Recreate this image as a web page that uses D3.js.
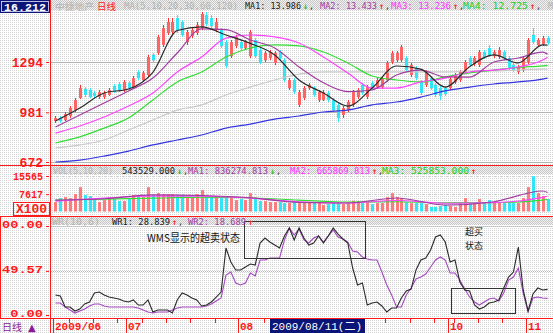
<!DOCTYPE html>
<html><head><meta charset="utf-8">
<script src="https://cdn.jsdelivr.net/npm/d3@7"></script>
<style>
html,body{margin:0;padding:0;background:#fff;overflow:hidden}
svg{display:block}
</style></head><body>
<svg id="c" width="553" height="333"></svg>
<script>
// ---------- DATA ----------
const open = [927,946,933,958,995,1070,1126,1120,1101,1076,
1076,1089,1145,1157,1120,1163,1138,1232,1182,1213,
1338,1350,1400,1474,1481,1568,1543,1418,1456,1474,
1505,1586,1568,1493,1493,1418,1331,1394,1418,1381,
1331,1431,1369,1306,1319,1288,1356,1306,1132,1182,
1027,1070,1132,1132,1058,1058,1101,1058,1027,964,
995,1027,1076,1151,1076,1163,1138,1138,1182,1294,
1306,1306,1319,1213,1257,1170,1151,1194,1151,1132,
1132,1132,1170,1182,1232,1319,1282,1275,1356,1381,
1331,1325,1356,1319,1275,1232,1244,1294,1462,1400,
1406,1443];
const close = [946,927,971,1008,1058,1132,1089,1076,1083,1107,
1101,1120,1107,1120,1170,1132,1194,1194,1226,1325,
1306,1450,1505,1543,1543,1493,1462,1481,1493,1524,
1593,1530,1518,1543,1394,1269,1418,1450,1381,1418,
1481,1331,1294,1350,1356,1350,1319,1182,1182,1107,
1107,1132,1151,1089,1107,1107,1058,995,946,1008,
1045,1107,1120,1101,1138,1132,1182,1194,1288,1350,
1350,1387,1244,1275,1194,1101,1232,1132,1089,1083,
1095,1188,1213,1232,1294,1275,1319,1356,1325,1338,
1356,1369,1319,1257,1244,1263,1319,1431,1418,1431,
1443,1412];
const high = [958,958,983,1020,1070,1151,1138,1132,1114,1120,
1114,1132,1157,1170,1182,1176,1207,1244,1238,1338,
1350,1462,1524,1568,1568,1586,1555,1493,1505,1543,
1605,1605,1586,1568,1505,1431,1431,1462,1431,1431,
1493,1443,1381,1362,1369,1362,1369,1319,1194,1194,
1120,1145,1163,1145,1120,1120,1114,1070,1039,1020,
1058,1120,1132,1163,1151,1176,1194,1207,1300,1362,
1362,1400,1331,1288,1269,1182,1244,1207,1163,1145,
1145,1201,1226,1244,1306,1331,1331,1369,1369,1400,
1369,1387,1369,1331,1288,1275,1331,1443,1505,1443,
1456,1456];
const low = [915,915,927,946,983,1064,1076,1070,1064,1064,
1064,1083,1101,1107,1107,1120,1126,1182,1170,1201,
1294,1338,1387,1462,1468,1474,1450,1400,1443,1462,
1493,1518,1505,1481,1381,1257,1319,1381,1369,1369,
1319,1319,1282,1294,1306,1275,1306,1170,1120,1095,
1014,1058,1120,1076,1045,1051,1045,983,921,946,
983,1014,1064,1089,1064,1120,1126,1126,1170,1282,
1294,1294,1232,1201,1182,1089,1138,1120,1076,1058,
1083,1120,1157,1170,1219,1263,1269,1263,1313,1325,
1319,1313,1306,1244,1232,1219,1232,1282,1406,1387,
1394,1400];
// volume in units of 100 (axis "X100")
const volume = [4130,5870,6300,5870,7600,10660,7180,6740,5440,4130,
5000,5440,5440,4570,4570,5440,7180,6740,6300,10660,
7180,8050,7610,7610,7610,6740,7180,6300,6300,7610,
9350,6300,6740,6740,5870,6300,5870,5000,5440,5000,
8050,5440,4570,4570,4130,4130,4130,3700,3700,4130,
3700,3700,4130,3700,3700,2830,3260,3700,3700,3260,
3700,4700,4570,3700,4130,3260,3700,3700,6300,8050,
6300,5870,4130,3700,3700,3700,3260,1960,1960,2390,
2830,2390,1960,3700,5870,3700,3700,5440,3700,5000,
4130,4130,3700,3700,3700,3700,5870,10660,15440,8050,
6740,5440];
// price moving averages, read at these bar indices
const maKnots = [0,5,10,15,20,25,30,35,40,45,50,55,60,65,70,75,80,85,90,95,100,101];
const ma5   = [927,1008,1101,1126,1230,1490,1512,1462,1410,1338,1182,1101,1020,1132,1269,1250,1138,1265,1338,1288,1400,1399];
const ma10  = [890,964,1039,1114,1194,1350,1500,1495,1431,1381,1263,1165,1110,1120,1213,1244,1201,1200,1294,1319,1356,1343];
const ma20  = [852,896,952,1020,1101,1232,1325,1443,1462,1450,1412,1325,1226,1132,1132,1170,1194,1232,1244,1263,1306,1324];
const ma30  = [790,828,883,946,1058,1170,1232,1325,1381,1400,1394,1356,1288,1207,1182,1170,1201,1226,1244,1260,1270,1273];
const ma60  = [759,778,809,871,933,995,1027,1089,1138,1182,1219,1232,1232,1232,1232,1232,1232,1238,1238,1244,1250,1250];
const ma120 = [672,684,709,740,778,809,840,883,908,939,958,983,995,1027,1045,1076,1114,1138,1157,1170,1188,1194];
// volume moving averages
const volKnots = [0,10,20,30,40,50,60,70,80,90,100,101];
const volMa1 = [5000,5600,7300,7000,6000,4000,3700,5900,2800,4300,9000,8363];
const volMa2 = [4570,5870,6740,6740,5870,4300,3700,4800,3600,3900,6200,6659];
const volMa3 = [5000,5440,5870,6300,6000,5000,4100,4300,3800,3900,5000,5259];
// WR indicator
const wr1 = [22.5,21.3,9.0,9.0,4.5,6.7,12.4,14.6,24.7,25.8,
22.5,20.2,19.1,18.0,15.7,14.6,16.9,11.2,11.2,16.9,
3.4,5.6,5.6,5.6,2.2,16.9,24.7,22.5,19.1,16.9,
10.1,11.2,14.6,20.2,25.8,75.3,59.6,50.6,50.6,53.9,
57.3,56.2,80.9,86.5,82.0,78.7,75.3,88.8,97.8,84.3,
97.8,86.5,78.7,80.9,88.8,80.9,88.8,97.8,91.0,85.4,
80.9,52.8,33.7,36.0,11.2,13.5,14.6,10.1,3.4,7.9,
7.9,19.1,27.0,29.2,50.6,61.8,64.0,73.0,87.6,89.9,
82.0,59.6,61.8,37.1,28.1,27.0,11.2,6.7,9.0,13.5,
14.6,16.9,30.3,42.7,48.3,76.4,28.1,4.5,23.6,30.3,
28.1,28.8];
const wr2 = [13.5,13.5,9.0,5.6,2.2,4.5,6.7,10.1,12.4,12.4,
10.1,9.0,9.0,9.0,9.0,9.0,9.0,7.9,5.6,3.4,
2.2,3.4,3.4,3.4,5.6,7.9,9.0,9.0,9.0,9.0,
9.0,10.1,12.4,15.7,19.1,44.9,48.3,36.0,33.7,36.0,
47.2,43.8,61.8,61.8,64.0,64.0,64.0,84.3,97.8,89.9,
96.6,84.3,80.9,86.5,88.8,82.0,88.8,95.5,87.6,85.4,
82.0,71.9,70.8,65.2,62.9,61.8,61.8,48.3,33.7,22.5,
9.0,9.0,22.5,30.3,40.4,42.7,46.1,53.9,61.8,65.2,
61.8,47.2,47.2,39.3,29.2,20.2,14.6,11.2,14.6,18.0,
19.1,15.7,24.7,39.3,42.7,52.8,24.7,3.4,19.1,20.2,
19.1,18.7];
// ticks / labels
const priceTicks = [1294, 981, 672];
const volTicks = [15565, 7617];
const wrTicks = [100, 49.57, 0];
const monthLabels = ["2009/06","07","08","09","10","11"];
const monthStart = [0,15,38,59,81,97];
const weekStart = [3,8,13,18,23,28,33,43,48,53,63,68,73,78,82,87,92];
const topPrice = "16.212";
const maNames = ["MA1","MA2","MA3","MA4"];
const maLast = ["13.986","13.433","13.236","12.725"];
const maUp = [false,true,true,true];
const volNow = "543529.000";
const volMaNames = ["MA1","MA2","MA3"];
const volMaLast = ["836274.813","665869.813","525853.000"];
const volMaUp = [false,true,true];
const wrNames = ["WR1","WR2"];
const wrLast = ["28.839","18.689"];
const cursorDate = "2009/08/11(二)";
const cursorBar = 44;
// annotation boxes: bar index range and WR range
const boxes = [{i0:39.2,i1:64.1,w0:64,w1:105.6},{i0:81.7,i1:94.9,w0:2.2,w1:30.3}];

// ---------- DRAW ----------
const svg = d3.select("#c");
const W = 553, H = 333;
const defs = svg.append("defs");
const p1 = defs.append("pattern").attr("id","dots").attr("width",2).attr("height",2).attr("patternUnits","userSpaceOnUse");
p1.append("rect").attr("width",2).attr("height",2).attr("fill","#fff");
p1.append("rect").attr("width",1).attr("height",1).attr("fill","#d4d4d4");
const p2 = defs.append("pattern").attr("id","dots2").attr("width",2).attr("height",2).attr("patternUnits","userSpaceOnUse");
p2.append("rect").attr("width",2).attr("height",2).attr("fill","#f2f2f2");
p2.append("rect").attr("width",1).attr("height",1).attr("fill","#c6c6c6");
p2.append("rect").attr("x",1).attr("y",1).attr("width",1).attr("height",1).attr("fill","#c6c6c6");
function clip(id,x,y,w,h){defs.append("clipPath").attr("id",id).append("rect").attr("x",x).attr("y",y).attr("width",w).attr("height",h);}
clip("cp",51,10,502,155);
clip("cv",51,174,502,42);
clip("cw",51,218,502,100);

svg.append("rect").attr("width",W).attr("height",H).attr("fill","url(#dots)");
svg.append("rect").attr("x",51).attr("y",0).attr("width",502).attr("height",10).attr("fill","url(#dots2)");
svg.append("rect").attr("x",51).attr("y",166).attr("width",502).attr("height",8).attr("fill","url(#dots2)");
svg.append("rect").attr("x",51).attr("y",217).attr("width",502).attr("height",8).attr("fill","url(#dots2)");

const n = close.length;
const x = d3.scaleBand().domain(d3.range(n)).range([53,550]);
const xi = d3.scaleLinear().domain([0,n]).range([53,550]);
const cx = i => x(i) + x.bandwidth()/2;
const yP = d3.scaleLinear().domain([672,1294]).range([162,62]);
const yV = d3.scaleLinear().domain([0,15565]).range([211.5,176]);
const yW = d3.scaleLinear().domain([0,100]).range([315,226]);

const RED = "#ff1a1a", UPC = "#ff6464", DNC = "#2ee6f6";
const MONO = "'Liberation Mono','DejaVu Sans Mono',monospace";
const HMONO = "'DejaVu Sans Mono','Liberation Mono',monospace";
const CJK = "'Noto Sans CJK SC','Noto Sans',sans-serif";

// gridlines
svg.append("g").selectAll("line").data(priceTicks).join("line")
  .attr("x1",51).attr("x2",W).attr("y1",d=>Math.round(yP(d))+0.5).attr("y2",d=>Math.round(yP(d))+0.5)
  .attr("stroke","#b4b4b4");
svg.append("g").selectAll("line").data(wrTicks.slice(0,2)).join("line")
  .attr("x1",51).attr("x2",W).attr("y1",d=>Math.round(yW(d))+0.5).attr("y2",d=>Math.round(yW(d))+0.5)
  .attr("stroke","#b8b8b8").attr("stroke-dasharray","1,1");
svg.append("g").selectAll("line").data(volTicks).join("line")
  .attr("x1",51).attr("x2",W).attr("y1",d=>Math.round(yV(d))+0.5).attr("y2",d=>Math.round(yV(d))+0.5)
  .attr("stroke","#c8c8c8").attr("stroke-dasharray","1,2");

// candles
const gc = svg.append("g").attr("clip-path","url(#cp)");
const idx = d3.range(n);
gc.selectAll("line").data(idx).join("line")
  .attr("x1",i=>Math.round(cx(i))+0.5).attr("x2",i=>Math.round(cx(i))+0.5)
  .attr("y1",i=>yP(high[i])).attr("y2",i=>yP(low[i]))
  .attr("stroke",i=>close[i]>=open[i]?"#ff2a2a":DNC);
gc.selectAll("rect").data(idx).join("rect")
  .attr("x",i=>Math.round(cx(i))-1).attr("width",3)
  .attr("y",i=>yP(Math.max(open[i],close[i])))
  .attr("height",i=>Math.max(1,Math.abs(yP(open[i])-yP(close[i]))))
  .attr("fill",i=>close[i]>=open[i]?UPC:DNC);

// price MAs
const maSeries = [[ma120,"#3434e0"],[ma60,"#cacaca"],[ma30,"#33dd33"],[ma20,"#ff44ff"],[ma10,"#a03ca0"],[ma5,"#2a2a2a"]];
const kline = d3.line().x(d=>cx(d[0])).y(d=>yP(d[1])).curve(d3.curveMonotoneX);
gc.selectAll("path.ma").data(maSeries).join("path").attr("class","ma")
  .attr("d",s=>kline(maKnots.map((k,j)=>[k,s[0][j]])))
  .attr("fill","none").attr("stroke",s=>s[1]).attr("stroke-width",1.2);

// volume
const gv = svg.append("g").attr("clip-path","url(#cv)");
gv.selectAll("rect").data(idx).join("rect")
  .attr("x",i=>Math.round(cx(i))-1).attr("width",3)
  .attr("y",i=>yV(volume[i])).attr("height",i=>yV(0)-yV(volume[i]))
  .attr("fill",i=>close[i]>=open[i]?"#ff7a7a":DNC);
const vline = d3.line().x(d=>cx(d[0])).y(d=>yV(d[1])).curve(d3.curveMonotoneX);
gv.selectAll("path").data([[volMa3,"#33dd33"],[volMa2,"#ff44ff"],[volMa1,"#a03ca0"]]).join("path")
  .attr("d",s=>vline(volKnots.map((k,j)=>[k,s[0][j]])))
  .attr("fill","none").attr("stroke",s=>s[1]).attr("stroke-width",1.1);

// WR
const gw = svg.append("g").attr("clip-path","url(#cw)");
const wline = d3.line().x((d,i)=>cx(i)).y(d=>yW(d));
gw.append("path").attr("d",wline(wr2)).attr("fill","none").attr("stroke","#a548c0").attr("stroke-width",1.1);
gw.append("path").attr("d",wline(wr1)).attr("fill","none").attr("stroke","#2a2a2a").attr("stroke-width",1.1);
svg.append("g").selectAll("rect").data(boxes).join("rect")
  .attr("x",b=>Math.round(xi(b.i0))+0.5).attr("y",b=>Math.round(yW(b.w1))+0.5)
  .attr("width",b=>Math.round(xi(b.i1)-xi(b.i0))).attr("height",b=>Math.round(yW(b.w0)-yW(b.w1)))
  .attr("fill","none").attr("stroke","#333").attr("stroke-width",1);

// annotations
svg.append("text").attr("x",147).attr("y",242).attr("textLength",93).attr("lengthAdjust","spacingAndGlyphs")
  .style("font-family",CJK).style("font-size","11px").attr("fill","#111").text("WMS显示的超卖状态");
svg.append("text").attr("x",465).attr("y",235).style("font-family",CJK).style("font-size","9px").attr("fill","#111").text("超买");
svg.append("text").attr("x",465).attr("y",248.5).style("font-family",CJK).style("font-size","9px").attr("fill","#111").text("状态");

// frame lines
const fr = svg.append("g").attr("stroke",RED).attr("stroke-width",1);
fr.append("line").attr("x1",50.5).attr("x2",50.5).attr("y1",0).attr("y2",H);
fr.append("line").attr("x1",0).attr("x2",W).attr("y1",165.5).attr("y2",165.5);
fr.append("line").attr("x1",0).attr("x2",W).attr("y1",216.5).attr("y2",216.5);
fr.append("line").attr("x1",0).attr("x2",W).attr("y1",318.5).attr("y2",318.5);
fr.append("line").attr("x1",0.5).attr("x2",0.5).attr("y1",216).attr("y2",318);

// axes
function styleAxis(g, size, perChar, dy){
  g.select(".domain").remove();
  g.selectAll(".tick line").attr("stroke",RED);
  g.selectAll(".tick text").attr("fill",RED).style("font-family",MONO).style("font-weight","bold")
   .style("font-size",size+"px")
   .each(function(){const t=d3.select(this); t.attr("textLength",t.text().length*perChar).attr("lengthAdjust","spacingAndGlyphs"); if(dy) t.attr("dy",dy);});
}
svg.append("g").attr("transform","translate(49,0)")
  .call(d3.axisLeft(yP).tickValues(priceTicks).tickSize(3).tickPadding(3).tickFormat(d3.format("d")))
  .call(g=>styleAxis(g,12.5,7.8));
svg.append("g").attr("transform","translate(49,0)")
  .call(d3.axisLeft(yV).tickValues(volTicks).tickSize(3).tickPadding(3).tickFormat(d3.format("d")))
  .call(g=>styleAxis(g,11,6));
// the left column is only wide enough for the last five characters of each WR label
const wrFmt = d => d3.format(".2f")(d).slice(-5);
svg.append("g").attr("transform","translate(49,0)")
  .call(d3.axisLeft(yW).tickValues(wrTicks).tickSize(3).tickPadding(3).tickFormat(wrFmt))
  .call(g=>styleAxis(g,11.5,8.2,"0.12em"));
// X100 box
svg.append("rect").attr("x",13.5).attr("y",202.5).attr("width",36).attr("height",13).attr("fill","none").attr("stroke",RED);
svg.append("text").attr("x",16).attr("y",213).attr("textLength",31).attr("lengthAdjust","spacingAndGlyphs")
  .style("font-family",MONO).style("font-weight","bold").style("font-size","12px").attr("fill",RED).text("X100");

// top-left price box
svg.append("rect").attr("x",0).attr("y",0).attr("width",50).attr("height",13).attr("fill","#0b1577");
svg.append("rect").attr("x",1.5).attr("y",1.5).attr("width",47).attr("height",10).attr("fill","none").attr("stroke","#e8e8ff").attr("stroke-width",0.8);
svg.append("text").attr("x",4).attr("y",11).attr("textLength",42).attr("lengthAdjust","spacingAndGlyphs")
  .style("font-family",MONO).style("font-weight","bold").style("font-size","11.5px").attr("fill","#fff").text(topPrice);

// header helper
function seg(t,x0,x1,y,color,font,size,weight){
  const el = svg.append("text").attr("x",x0).attr("y",y).attr("fill",color)
    .style("font-family",font).style("font-size",size+"px").style("font-weight",weight||"normal").text(t);
  if(x1) el.attr("textLength",x1-x0).attr("lengthAdjust","spacingAndGlyphs");
  return el;
}
const GREY="#b4b4b4", PUR="#a03ca0", MAG="#ff33ff", GRN="#22cc22", UPR="#ff2020", DNG="#22bb22";
const maColors=["#1a1a1a",PUR,MAG,GRN];
// row 1
seg("中捷地产",55,94,9.5,GREY,CJK,9);
seg("日线",97,116,9.5,"#ff2020",CJK,9);
seg("MA(5,10,20,30,60,120)",124,238,9,GREY,HMONO,8.5);
const maX=[[245,301],[320,377],[391,451],[463,528]];
maNames.forEach((m,j)=>{
  seg(m+": "+maLast[j],maX[j][0],maX[j][1],9,maColors[j],HMONO,8.5);
  seg(maUp[j]?"↑":"↓",maX[j][1]+2,null,9,maUp[j]?UPR:DNG,HMONO,8.5,"bold");
  seg(",",maX[j][1]+8,null,9,"#333",HMONO,8.5);
});
seg("M",548,null,9,GREY,HMONO,8.5);
// row 2 (volume)
seg("VOL(5,10,20)",53,113,173.5,GREY,HMONO,8.5);
seg(volNow,122,175,173.5,"#1a1a1a",HMONO,8.5);
seg("↓",177,null,173.5,DNG,HMONO,8.5,"bold");
seg(",",183,null,173.5,"#333",HMONO,8.5);
const vX=[[188,268],[290,370],[382,469]], vC=[PUR,MAG,GRN];
volMaNames.forEach((m,j)=>{
  seg(m+": "+volMaLast[j],vX[j][0],vX[j][1],173.5,vC[j],HMONO,8.5);
  seg(volMaUp[j]?"↑":"↓",vX[j][1]+2,null,173.5,volMaUp[j]?UPR:DNG,HMONO,8.5,"bold");
  if(j<2) seg(",",vX[j][1]+8,null,173.5,"#333",HMONO,8.5);
});
// row 3 (WR)
seg("WR(10,6)",52,100,224.5,GREY,HMONO,8.5);
const wX=[[112,170],[188,246]], wC=["#1a1a1a",PUR];
wrNames.forEach((m,j)=>{
  seg(m+": "+wrLast[j],wX[j][0],wX[j][1],224.5,wC[j],HMONO,8.5);
  seg("↑",wX[j][1]+2,null,224.5,UPR,HMONO,8.5,"bold");
  if(j<1) seg(",",wX[j][1]+8,null,224.5,"#333",HMONO,8.5);
});

// bottom date axis
const boxX0 = Math.round(x(cursorBar))+3, boxW = 95;
const ga = svg.append("g");
ga.selectAll("line.wk").data(weekStart).join("line").attr("class","wk")
  .attr("x1",i=>Math.round(x(i)+1)+0.5).attr("x2",i=>Math.round(x(i)+1)+0.5)
  .attr("y1",319).attr("y2",323).attr("stroke",RED);
ga.selectAll("line.mo").data(monthStart).join("line").attr("class","mo")
  .attr("x1",i=>Math.round(x(i)+1)-0.5).attr("x2",i=>Math.round(x(i)+1)-0.5)
  .attr("y1",319).attr("y2",H).attr("stroke",RED);
// month labels that are not covered by the cursor-date box
const visibleMonths = monthStart.map((m,j)=>({m,t:monthLabels[j]}))
  .filter(d=>{const lx=Math.round(x(d.m)+1)+1; return lx+d.t.length*6.6 < boxX0 || lx > boxX0+boxW;});
ga.selectAll("text").data(visibleMonths).join("text")
  .attr("x",d=>Math.round(x(d.m)+1)+1).attr("y",329.5)
  .attr("textLength",d=>d.t.length*6.6).attr("lengthAdjust","spacingAndGlyphs")
  .style("font-family",MONO).style("font-weight","bold").style("font-size","11.5px").attr("fill",RED)
  .text(d=>d.t);
svg.append("rect").attr("x",boxX0).attr("y",319).attr("width",boxW).attr("height",14).attr("fill","#0b1577");
svg.append("text").attr("x",boxX0+2).attr("y",329.5).attr("textLength",90).attr("lengthAdjust","spacingAndGlyphs")
  .style("font-family",MONO+",'Noto Sans CJK SC'").style("font-size","11.5px").attr("fill","#fff").text(cursorDate);
const dl = svg.append("text").attr("y",330.8).attr("fill","#8a1a9a").style("font-size","10px");
dl.append("tspan").attr("x",2).style("font-family",CJK).text("日线");
dl.append("tspan").attr("x",28).style("font-family","'DejaVu Sans'").text("▲");
</script>
</body></html>
